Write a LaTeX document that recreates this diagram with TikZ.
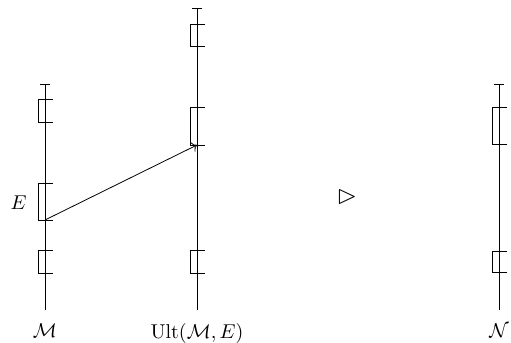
\documentclass[tikz,border=0pt]{standalone}
\usepackage{amsmath,amssymb}
\usetikzlibrary{arrows.meta,positioning}

\begin{document}
\begin{tikzpicture}[
				x=0.5pt, y=-0.5pt,
				axis/.style = {{Bar[width=5pt]}-},
				gap/.style = {},
				lbl/.style = {inner sep=0pt},
				line/.style = {->}
				]
				\useasboundingbox (0,0) rectangle (511,343);
				
				% the three models
				\coordinate (mtop) at (45,84);
				\coordinate (mbot) at (45,310);
				\coordinate (utop) at (197,8);
				\coordinate (ubot) at (197,310);
				\coordinate (ntop) at (499,84);
				\coordinate (nbot) at (499,310);
				\draw[axis] (mtop) -- (mbot);
				\draw[axis] (utop) -- (ubot);
				\draw[axis] (ntop) -- (nbot);
				
				% gaps
				\foreach \x/\a/\b in {45/99/122, 45/183/220, 45/250/273,
					197/24/46, 197/107/145, 197/250/273,
					499/107/144, 499/251/272}
					\draw[gap] (\x+8,\a) -- (\x-7,\a) -- (\x-7,\b) -- (\x+8,\b);
				
				\node[lbl, below=6.5pt of mbot] (m) {$\mathcal{M}$};
				\node[lbl, below=6.5pt of ubot] (ult) {$\mathrm{Ult}(\mathcal{M},E)$};
				\node[lbl, below=6.5pt of nbot] (n) {$\mathcal{N}$};
				\node[lbl] (e) at (18.5,203) {$E$};
				\node[lbl, scale=1.3] (tri) at (347,197) {$\rhd$};
				
				\coordinate (eb) at (45,220);
				\coordinate (ub) at (197,145);
				\draw[line] (eb) -- (ub);
			\end{tikzpicture}
\end{document}
